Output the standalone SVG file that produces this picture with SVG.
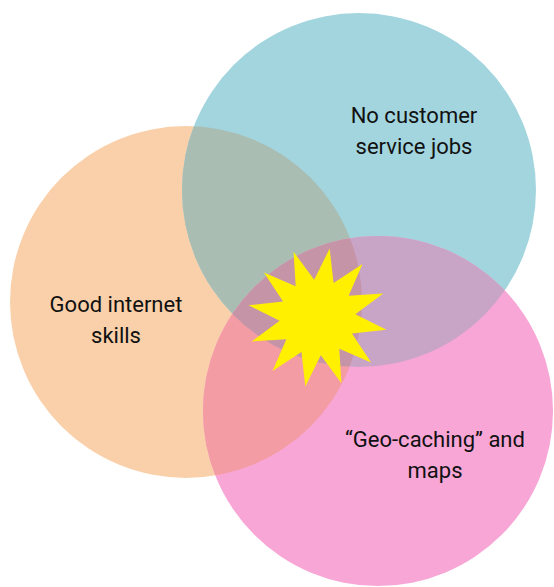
<svg xmlns="http://www.w3.org/2000/svg" width="554" height="587" viewBox="0 0 554 587">
<style>
.lbl{font-family:Roboto,"Liberation Sans",sans-serif;font-size:22px;fill:#111;text-anchor:middle}
</style>
<defs>
<clipPath id="cO"><circle cx="186" cy="302" r="176"/></clipPath>
<clipPath id="cB"><circle cx="359" cy="190" r="177"/></clipPath>
</defs>
<rect width="554" height="587" fill="#fff"/>
<g id="circle-internet">
<circle cx="186" cy="302" r="176" fill="#F9D0A9"/>
</g>
<g id="circle-service">
<circle cx="359" cy="190" r="177" fill="#A3D5DE"/>
<circle cx="359" cy="190" r="177" fill="#AABDB3" clip-path="url(#cO)"/>
</g>
<g id="circle-maps">
<circle cx="378" cy="411" r="175" fill="#F7A6D6"/>
<circle cx="378" cy="411" r="175" fill="#F39CA4" clip-path="url(#cO)"/>
<circle cx="378" cy="411" r="175" fill="#C8A4C6" clip-path="url(#cB)"/>
<g clip-path="url(#cB)"><circle cx="378" cy="411" r="175" fill="#C694A7" clip-path="url(#cO)"/></g>
</g>
<g id="star">
<polygon fill="#FFF000" points="329.65,248.56 333.56,283.06 362.5,263.88 348.63,295.7 383.28,293.56 355.35,314.19 386.44,329.65 351.94,333.56 371.12,362.5 339.3,348.63 341.44,383.28 320.81,355.35 305.35,386.44 301.44,351.94 272.5,371.12 286.37,339.3 251.72,341.44 279.65,320.81 248.56,305.35 283.06,301.44 263.88,272.5 295.7,286.37 293.56,251.72 314.19,279.65"/>
</g>
<g id="labels">
<text class="lbl" x="414" y="123">No customer</text>
<text class="lbl" x="414" y="154">service jobs</text>
<text class="lbl" x="116" y="312">Good internet</text>
<text class="lbl" x="116" y="343">skills</text>
<text class="lbl" x="435" y="447">“Geo-caching” and</text>
<text class="lbl" x="435" y="478">maps</text>
</g>
</svg>
